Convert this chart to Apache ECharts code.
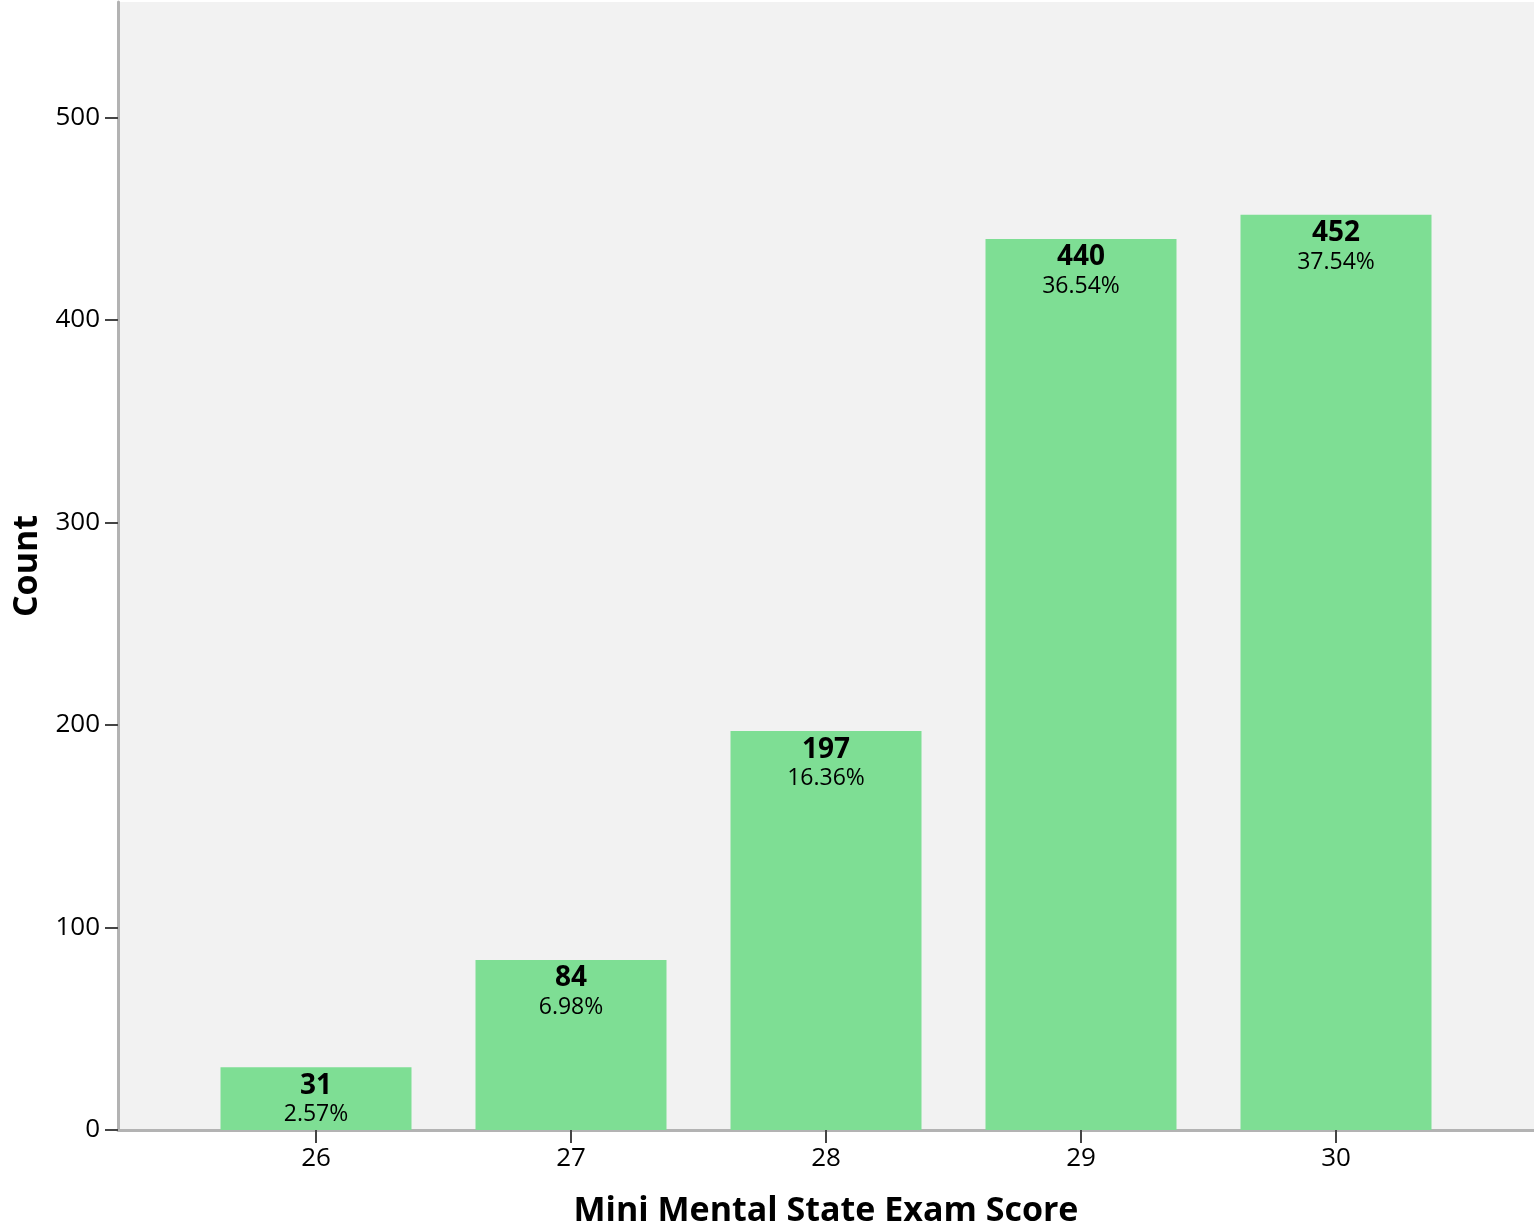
<!DOCTYPE html>
<html>
<head>
<meta charset="utf-8">
<script src="https://cdn.jsdelivr.net/npm/echarts@6/dist/echarts.min.js"></script>
<style>
html,body{margin:0;padding:0;background:#fff;}
#chart{width:1534px;height:1227px;}
</style>
</head>
<body>
<div id="chart"></div>
<script>
const categories = [26, 27, 28, 29, 30];
const counts = [31, 84, 197, 440, 452];
const percents = ['2.57%', '6.98%', '16.36%', '36.54%', '37.54%'];
const yTicks = [0, 100, 200, 300, 400, 500];

const chart = echarts.init(document.getElementById('chart'), null, {renderer: 'canvas'});
const FONT = '"Open Sans", "DejaVu Sans", sans-serif';

chart.setOption({
  animation: false,
  backgroundColor: '#ffffff',
  grid: {
    left: 118, right: 0, top: 2, bottom: 97,
    containLabel: false,
    outerBoundsMode: 'none',
    show: true, backgroundColor: '#f2f2f2', borderWidth: 0
  },
  xAxis: {
    type: 'value',
    min: 25.2235,
    max: 30.7765,
    name: 'Mini Mental State Exam Score',
    nameLocation: 'middle',
    nameGap: 64,
    nameTextStyle: {fontFamily: FONT, fontSize: 34, fontWeight: 'bold', color: '#000'},
    splitLine: {show: false},
    axisLine: {show: true, lineStyle: {color: '#b3b3b3', width: 3}},
    axisTick: {show: true, inside: false, customValues: categories, length: 13, lineStyle: {color: '#444', width: 2}},
    axisLabel: {customValues: categories, margin: 16, fontFamily: FONT, fontSize: 26, color: '#000'}
  },
  yAxis: {
    type: 'value',
    min: 0,
    max: 557,
    name: 'Count',
    nameLocation: 'middle',
    nameGap: 74,
    nameRotate: 90,
    nameTextStyle: {fontFamily: FONT, fontSize: 34, fontWeight: 'bold', color: '#000'},
    splitLine: {show: false},
    axisLine: {show: true, lineStyle: {color: '#b3b3b3', width: 3}},
    axisTick: {show: true, inside: false, customValues: yTicks, length: 13, lineStyle: {color: '#444', width: 2}},
    axisLabel: {customValues: yTicks, margin: 18, fontFamily: FONT, fontSize: 26, color: '#000'}
  },
  series: [{
    type: 'bar',
    barWidth: 191,
    data: categories.map((c, i) => [c, counts[i]]),
    itemStyle: {color: '#7ede94'},
    label: {
      show: true,
      position: 'insideTop',
      distance: 4,
      formatter: (p) => '{c|' + counts[p.dataIndex] + '}\n{p|' + percents[p.dataIndex] + '}',
      rich: {
        c: {fontFamily: FONT, fontSize: 28, fontWeight: 'bold', color: '#000', lineHeight: 29},
        p: {fontFamily: FONT, fontSize: 23, color: '#000', lineHeight: 29}
      }
    }
  }]
});
</script>
</body>
</html>
